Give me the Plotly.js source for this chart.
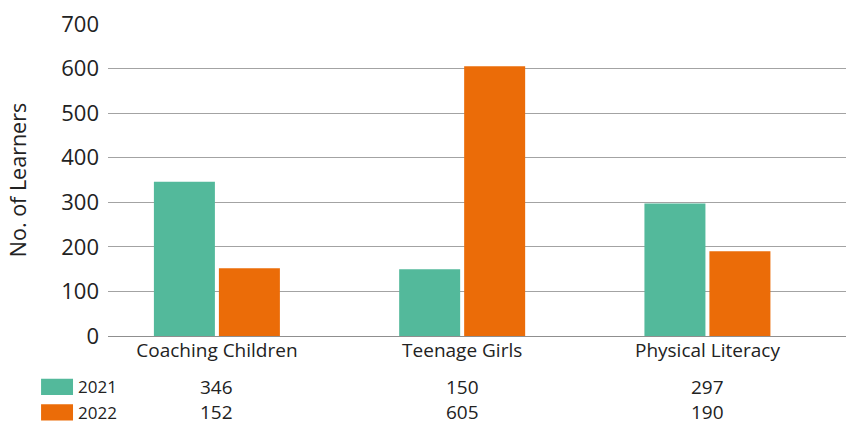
<!DOCTYPE html>
<html>
<head>
<meta charset="utf-8">
<script src="https://cdn.plot.ly/plotly-3.0.1.min.js"></script>
<style>
  html, body { margin: 0; padding: 0; background: #fff; }
  #chart { width: 846px; height: 425px; }
</style>
</head>
<body>
<div id="chart"></div>
<script>
// Learners per programme, two years
const categories = ["Coaching Children", "Teenage Girls", "Physical Literacy"];
const seriesNames = ["2021", "2022"];
const values2021 = [346, 150, 297];
const values2022 = [152, 605, 190];
const yTicks = [0, 100, 200, 300, 400, 500, 600, 700];

const colors = ["#53b99b", "#eb6c08"];
const textColor = "#222222";
const fontFamily = "'Open Sans', 'Noto Sans', sans-serif";

const seriesValues = [values2021, values2022];

const traces = seriesNames.map((name, i) => ({
  type: "bar",
  name: name,
  x: categories,
  y: seriesValues[i],
  marker: { color: colors[i], line: { width: 0 } },
  hoverinfo: "x+y+name"
}));

// Data table under the category axis: one row per series with a colour key
const rowY = [-0.163, -0.245];   // paper units below the plot
const annotations = [];
const shapes = [];
seriesNames.forEach((name, r) => {
  shapes.push({
    type: "rect", xref: "paper", yref: "paper",
    x0: -0.0907, x1: -0.0474,
    y0: rowY[r] - 0.026, y1: rowY[r] + 0.026,
    fillcolor: colors[r], line: { width: 0 }
  });
  annotations.push({
    xref: "paper", yref: "paper", x: -0.043, y: rowY[r],
    xanchor: "left", yanchor: "middle", showarrow: false,
    text: name, font: { family: fontFamily, size: 17, color: textColor }
  });
  categories.forEach((c, k) => {
    annotations.push({
      xref: "x", yref: "paper", x: c, y: rowY[r],
      xanchor: "center", yanchor: "middle", showarrow: false,
      text: String(seriesValues[r][k]),
      font: { family: fontFamily, size: 19, color: textColor }
    });
  });
});

const layout = {
  width: 846,
  height: 425,
  margin: { l: 108, r: 0, t: 24, b: 89 },
  paper_bgcolor: "#ffffff",
  plot_bgcolor: "#ffffff",
  showlegend: false,
  barmode: "group",
  bargap: 0.47,
  bargroupgap: 0.0615,
  font: { family: fontFamily, color: textColor },
  xaxis: {
    type: "category",
    range: [-0.444, 2.565],
    showgrid: false,
    zeroline: false,
    showline: false,
    ticks: "",
    ticklabelstandoff: 1,
    tickfont: { family: fontFamily, size: 19, color: textColor },
    automargin: false
  },
  yaxis: {
    range: [0, 700],
    tickvals: yTicks,
    ticktext: yTicks.map(String),
    showgrid: true,
    gridcolor: "#a3a3a3",
    gridwidth: 1,
    zeroline: true,
    zerolinecolor: "#8f8f8f",
    zerolinewidth: 1,
    showline: false,
    ticks: "",
    ticklabelstandoff: 8,
    tickfont: { family: fontFamily, size: 22, color: textColor },
    title: {
      text: "No. of Learners",
      font: { family: fontFamily, size: 21.5, color: textColor },
      standoff: 28
    },
    automargin: false
  },
  shapes: shapes,
  annotations: annotations
};

Plotly.newPlot("chart", traces, layout, { displayModeBar: false, staticPlot: true });
</script>
</body>
</html>
